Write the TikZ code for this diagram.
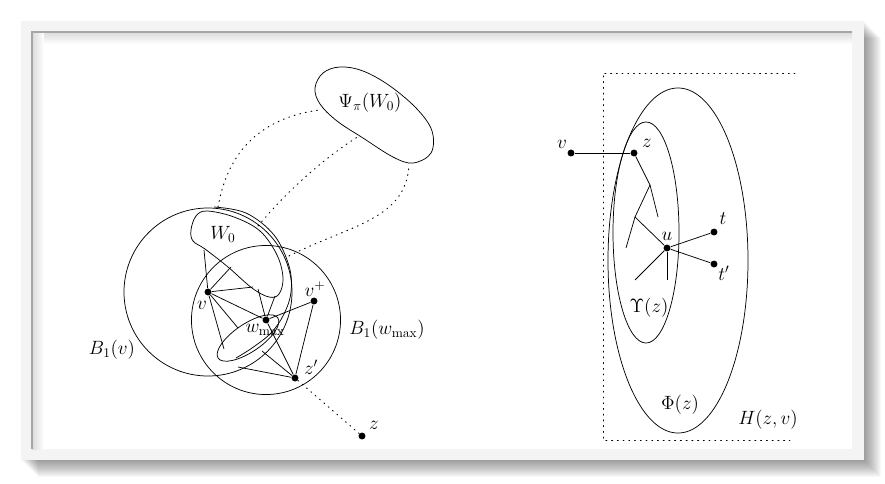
\documentclass[tikz,border=0pt]{standalone}
\usetikzlibrary{calc}
\definecolor{framegray}{HTML}{F4F4F4}
\tikzset{
  dot/.style={circle,fill=black,inner sep=0pt,minimum size=5.2pt},
  lbl/.style={inner sep=0pt,font=\Large},
  dotline/.style={line width=0.7pt,dash pattern=on 0.7pt off 3.6pt,line cap=round},
  thin line/.style={line width=0.55pt}
}
\begin{document}
\begin{tikzpicture}[x=0.75pt,y=-0.75pt,thin line]
\useasboundingbox (0,0) rectangle (885,483);
% ---------- frame ----------
\foreach \k in {1,...,17}{
  \fill[black,opacity=0.026] (21+\k,21+\k) rectangle (864+\k,460+\k);
}
\fill[framegray] (21,21) rectangle (864,460);
\fill[white] (32,32) rectangle (852,449);
\shade[top color=black!14,bottom color=white] (32,32) rectangle (852,44);
\shade[left color=black!14,right color=white] (32,32) rectangle (44,449);
\draw[black!35,line width=0.8pt] (32,449) -- (32,32) -- (852,32);

% ---------- left diagram ----------
\node[dot] (v) at (208,292) {};
\node[dot] (wmax) at (266,320) {};
\node[dot] (vplus) at (314,301) {};
\node[dot] (zp) at (295,378) {};
\node[dot] (z) at (362,436) {};

\draw (v) circle[radius=63pt];
\draw (wmax) circle[radius=55.9pt];

% W0 blob
\draw plot[smooth cycle,tension=0.6] coordinates {
 (191,230) (196,216) (207,211) (234,217) (260,231) (277,255) (283,278)
 (279,294) (269,297) (252,288) (228,267) (205,249) (193,241)};
% outer curve around W0
\draw plot[smooth,tension=0.6] coordinates {
 (214,207) (246,213) (274,235) (289,266) (291,292) (284,314) (271,333) (252,348) (236,358)};
% ellipse around wmax
\draw[rotate around={34:(248,338)}] (248,338) ellipse[x radius=27pt,y radius=10.5pt];

% Psi blob
\draw plot[smooth cycle,tension=0.6] coordinates {
 (315,88) (323,73) (340,67) (363,71) (390,86) (417,109) (432,131)
 (431,153) (413,163) (393,157) (363,138) (337,121) (320,104)};

% edges
\coordinate (a1) at (204,250);
\coordinate (a2) at (231,267);
\coordinate (a3) at (253,287);
\coordinate (a4) at (238,328);
\coordinate (a5) at (224,349);
\coordinate (b1) at (258,289);
\coordinate (b2) at (275,296);
\coordinate (c1) at (262,351);
\coordinate (c2) at (238,367);
\draw (v) -- (a1);
\draw (v) -- (a2);
\draw (v) -- (a3);
\draw (v) -- (wmax);
\draw (v) -- (a4);
\draw (v) -- (a5);
\draw (wmax) -- (b1);
\draw (wmax) -- (b2);
\draw (wmax) -- (vplus);
\draw (wmax) -- (zp);
\draw (c1) -- (zp);
\draw (c2) -- (zp);
\draw (vplus) -- (zp);

% dotted connectors
\coordinate (d1s) at (218,207);
\coordinate (d1e) at (319,110);
\coordinate (d2s) at (258,226);
\coordinate (d2e) at (359,136);
\coordinate (d3s) at (289,256);
\coordinate (d3e) at (409,166);
\draw[dotline] (d1s) .. controls (228,150) and (262,118) .. (d1e);
\draw[dotline] (d2s) .. controls (283,196) and (318,162) .. (d2e);
\draw[dotline] (d3s) .. controls (350,225) and (405,220) .. (d3e);
\draw[dotline] (zp) -- (z);

% labels
\node[lbl] (lpsi) at (370,103) {$\Psi_\pi(W_0)$};
\node[lbl] (lw0) at (223,234) {$W_0$};
\node[lbl] (lv) at (202,305) {$v$};
\node[lbl] (lwmax) at (265,330) {$w_{\max}$};
\node[lbl] (lvplus) at (315,289) {$v^+$};
\node[lbl] (lzp) at (311,367) {$z'$};
\node[lbl] (lz) at (374,425) {$z$};
\node[lbl] (lbv) at (112,350) {$B_1(v)$};
\node[lbl] (lbw) at (387,330) {$B_1(w_{\max})$};

% ---------- right diagram ----------
\coordinate (r1) at (795,73);
\coordinate (r2) at (603,73);
\coordinate (r3) at (603,440);
\coordinate (r4) at (790,440);
\draw[dotline] (r1) -- (r2) -- (r3) -- (r4);

\node[inner sep=0pt] (phiC) at (678,260.5) {};
\node[inner sep=0pt] (upsC) at (646,232.5) {};
\draw (phiC) ellipse[x radius=52.5pt,y radius=129.4pt];
\draw (upsC) ellipse[x radius=24.75pt,y radius=82.9pt];

\node[dot] (rv) at (571,153) {};
\node[dot] (rz) at (634,153) {};
\node[dot] (ru) at (667,248) {};
\node[dot] (rt) at (714,232) {};
\node[dot] (rtp) at (714,264) {};

\coordinate (p1) at (650,185);
\coordinate (p2) at (658,217);
\coordinate (p3) at (635,217);
\coordinate (p4) at (626,248);
\coordinate (p5) at (635,280);
\coordinate (p6) at (667,280);

\draw (rv) -- (rz);
\draw (rz) -- (p1);
\draw (p1) -- (p2);
\draw (p1) -- (p3);
\draw (p3) -- (p4);
\draw (p3) -- (ru);
\draw (ru) -- (p5);
\draw (ru) -- (p6);
\draw (ru) -- (rt);
\draw (ru) -- (rtp);

\node[lbl] (lrv) at (562,144) {$v$};
\node[lbl] (lrz) at (647,143) {$z$};
\node[lbl] (lru) at (667,236) {$u$};
\node[lbl] (lrt) at (723,219) {$t$};
\node[lbl] (lrtp) at (724,273) {$t'$};
\node[lbl] (lups) at (649,308) {$\Upsilon(z)$};
\node[lbl] (lphi) at (680,405) {$\Phi(z)$};
\node[lbl] (lH) at (768,420) {$H(z,v)$};
\end{tikzpicture}
\end{document}
